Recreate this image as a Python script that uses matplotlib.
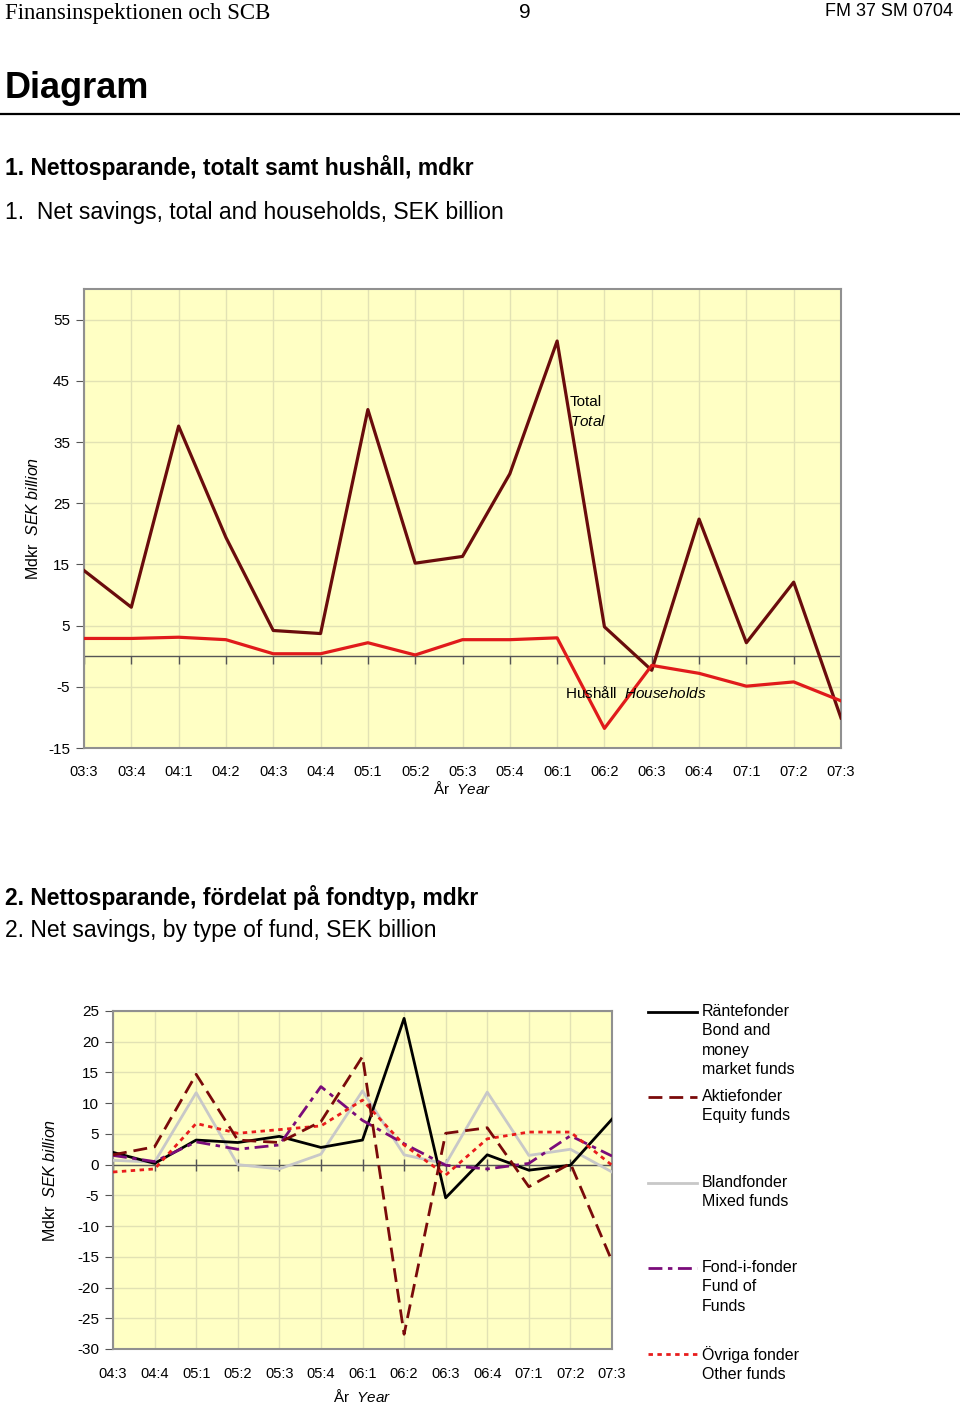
import matplotlib.pyplot as plt
from matplotlib.lines import Line2D
import numpy as np

plt.rcParams['font.family'] = ['Liberation Sans', 'DejaVu Sans']
plt.rcParams['mathtext.fontset'] = 'custom'
plt.rcParams['mathtext.rm'] = 'Liberation Sans'
plt.rcParams['mathtext.it'] = 'Liberation Sans:italic'
plt.rcParams['axes.unicode_minus'] = False

# Diagram 1 - nettosparande totalt och hushåll (mdkr)
kvartal1 = ['03:3', '03:4', '04:1', '04:2', '04:3', '04:4', '05:1', '05:2', '05:3',
            '05:4', '06:1', '06:2', '06:3', '06:4', '07:1', '07:2', '07:3']
total = [14.0, 8.0, 37.6, 19.4, 4.2, 3.7, 40.3, 15.2, 16.3, 29.8, 51.5, 4.8, -2.3, 22.4, 2.2, 12.1, -10.1]
hushall = [2.9, 2.9, 3.1, 2.7, 0.4, 0.4, 2.2, 0.2, 2.7, 2.7, 3.0, -11.8, -1.5, -2.8, -4.9, -4.2, -7.3]
yticks1 = [-15, -5, 5, 15, 25, 35, 45, 55]

# Diagram 2 - nettosparande per fondtyp (mdkr)
kvartal2 = ['04:3', '04:4', '05:1', '05:2', '05:3', '05:4', '06:1', '06:2', '06:3',
            '06:4', '07:1', '07:2', '07:3']
rantefonder = [2.0, 0.2, 4.0, 3.6, 4.6, 2.8, 4.0, 23.8, -5.4, 1.6, -0.9, -0.1, 7.4]
aktiefonder = [1.6, 2.9, 14.7, 4.0, 3.6, 7.0, 17.6, -27.6, 5.1, 6.0, -3.6, 0.2, -15.7]
blandfonder = [0.7, 0.4, 11.7, 0.0, -0.7, 1.7, 12.0, 1.6, 0.1, 11.8, 1.5, 2.5, -1.2]
fondifonder = [1.5, 0.5, 3.7, 2.5, 3.2, 12.7, 7.2, 3.4, -0.1, -0.7, 0.2, 4.7, 1.4]
ovriga = [-1.2, -0.7, 6.7, 5.1, 5.7, 6.3, 10.5, 3.2, -1.7, 4.2, 5.3, 5.3, -0.1]
yticks2 = [-30, -25, -20, -15, -10, -5, 0, 5, 10, 15, 20, 25]

W, H = 960, 1408
bakgrund = '#FFFFC4'
rutnat = '#E2E2B4'
ram = '#909090'


def fy(px):
    return 1 - px / H


fig = plt.figure(figsize=(W / 100, H / 100), dpi=100)

# sidhuvud
fig.text(5 / W, fy(13), 'Finansinspektionen och SCB', family='Liberation Serif',
         fontsize=16.5, va='center', ha='left')
fig.text(525 / W, fy(12), '9', fontsize=15, va='center', ha='center')
fig.text(953 / W, fy(12), 'FM 37 SM 0704', fontsize=13, va='center', ha='right')
fig.text(5 / W, fy(89), 'Diagram', fontsize=26, weight='bold', va='center', ha='left')
fig.add_artist(Line2D([0, 1], [fy(114), fy(114)], color='black', lw=1.6))

fig.text(5 / W, fy(167), '1. Nettosparande, totalt samt hushåll, mdkr', fontsize=16.5,
         weight='bold', va='center', ha='left')
fig.text(5 / W, fy(212), '1.  Net savings, total and households, SEK billion', fontsize=16.5,
         va='center', ha='left')
fig.text(5 / W, fy(897), '2. Nettosparande, fördelat på fondtyp, mdkr', fontsize=16.5,
         weight='bold', va='center', ha='left')
fig.text(5 / W, fy(930), '2. Net savings, by type of fund, SEK billion', fontsize=16.5,
         va='center', ha='left')


def style_axes(ax, n, ticks, ylim):
    ax.set_facecolor(bakgrund)
    ax.set_xlim(0, n - 1)
    ax.set_ylim(*ylim)
    ax.set_yticks(ticks)
    ax.set_xticks(range(n))
    ax.grid(True, color=rutnat, lw=1.0)
    ax.set_axisbelow(True)
    for s in ax.spines.values():
        s.set_color(ram)
        s.set_linewidth(1.5)
    ax.tick_params(axis='y', direction='out', length=6, color='#555555', labelsize=11, pad=4)
    ax.tick_params(axis='x', length=0, labelsize=10.5, pad=12)
    ax.axhline(0, color='#555555', lw=1.0, zorder=2)


# Diagram 1
ax1 = fig.add_axes([84 / W, fy(748), (841 - 84) / W, (748 - 289) / H])
x1 = np.arange(len(kvartal1))
style_axes(ax1, len(kvartal1), yticks1, (-15, 60))
ax1.set_xticklabels(kvartal1)
ax1.plot(x1, np.zeros(len(x1)), ls='none', marker=3, markersize=6, color='#555555', zorder=2)
ax1.plot(x1, total, color='#6A0C0C', lw=2.3, zorder=3)
ax1.plot(x1, hushall, color='#E01B1B', lw=2.3, zorder=3)
ax1.text(10.27, 41.5, 'Total', fontsize=11, va='center', ha='left')
ax1.text(10.27, 38.3, r'$\it{Total}$', fontsize=11, va='center', ha='left')
ax1.text(10.17, -6.0, r'Hushåll  $\it{Households}$', fontsize=11, va='center', ha='left')
ax1.set_ylabel(r'Mdkr  $\it{SEK\ billion}$', fontsize=11.5, labelpad=5)
ax1.set_xlabel(r'År  $\it{Year}$', fontsize=11, labelpad=1)

# Diagram 2
ax2 = fig.add_axes([113 / W, fy(1349), (612 - 113) / W, (1349 - 1011) / H])
x2 = np.arange(len(kvartal2))
style_axes(ax2, len(kvartal2), yticks2, (-30, 25))
ax2.set_xticklabels(kvartal2)
ax2.tick_params(axis='x', pad=13)
ax2.plot(x2, np.zeros(len(x2)), ls='none', marker='|', markersize=8, color='#555555', zorder=2)

serier = [
    ('Räntefonder\nBond and\nmoney\nmarket funds', rantefonder, 'black', None),
    ('Aktiefonder\nEquity funds', aktiefonder, '#7A0A0A', (5, 2.5)),
    ('Blandfonder\nMixed funds', blandfonder, '#C8C8C8', None),
    ('Fond-i-fonder\nFund of\nFunds', fondifonder, '#7A0C7A', (5, 2, 1.6, 2)),
    ('Övriga fonder\nOther funds', ovriga, '#E81C1C', (1.6, 1.6)),
]
ordning = [2, 0, 3, 4, 1]
for i in ordning:
    namn, v, farg, streck = serier[i]
    ln, = ax2.plot(x2, v, color=farg, lw=2.0, zorder=3)
    if streck:
        ln.set_dashes(streck)
ax2.set_ylabel(r'Mdkr  $\it{SEK\ billion}$', fontsize=11.5, labelpad=14)
ax2.set_xlabel(r'År  $\it{Year}$', fontsize=11, labelpad=5)

# förklaring
legend_y = [1012, 1097, 1183, 1268, 1354]
for (namn, v, farg, streck), ypx in zip(serier, legend_y):
    ln = Line2D([648 / W, 697 / W], [fy(ypx), fy(ypx)], color=farg, lw=2.0)
    if streck:
        ln.set_dashes(streck)
    fig.add_artist(ln)
    fig.text(702 / W, fy(ypx - 8), namn, fontsize=11.5, va='top', ha='left', linespacing=1.36)

fig.savefig('out.png', dpi=100)
